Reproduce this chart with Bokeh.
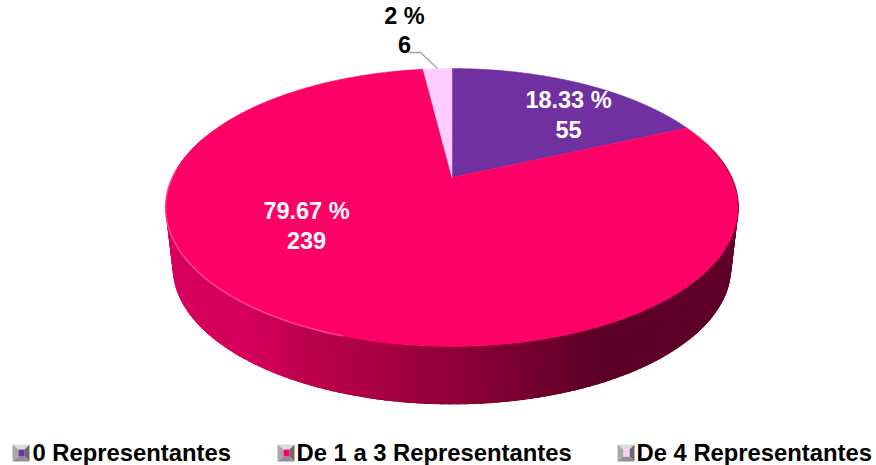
import math
from bokeh.plotting import figure
from bokeh.core.properties import value
from bokeh.embed import file_html
from bokeh.resources import INLINE

# ---- data ----
categories = ["0 Representantes", "De 1 a 3 Representantes", "De 4 Representantes"]
counts = [55, 239, 6]
percents = ["18.33 %", "79.67 %", "2 %"]
colors = ["#7030A0", "#FF0066", "#FFCCFF"]
total = sum(counts)

W, H = 876, 465
p = figure(width=W, height=H, x_range=(0, W), y_range=(H, 0), toolbar_location=None,
           output_backend="svg", min_border=0, outline_line_color=None)
p.axis.visible = False
p.grid.visible = False

# ---- perspective projection of the pie disc ----
CX, R, A, Y0, C = 451.5, 279.7, 0.2158, 177.0, -94.3
def proj(frac):
    th = 2 * math.pi * frac
    u, v = math.sin(th), math.cos(th)
    w = 1 + A * v
    return CX + R * u / w, (Y0 + C * v) / w

def lower(pt):
    return CX + (pt[0] - CX) * 0.975, 267 + (pt[1] - 207) * 0.985

STOPS = [(165, (216, 0, 94)), (250, (212, 0, 90)), (300, (190, 0, 78)), (400, (160, 0, 62)),
         (500, (125, 0, 48)), (590, (92, 0, 38)), (740, (96, 0, 40))]
def side_color(x):
    for (x0, c0), (x1, c1) in zip(STOPS, STOPS[1:]):
        if x <= x1:
            t = max(0, (x - x0) / (x1 - x0))
            return "#%02x%02x%02x" % tuple(round(a + (b - a) * t) for a, b in zip(c0, c1))
    return "#%02x%02x%02x" % STOPS[-1][1]

# side wall, as fine overlapping strips from the top rim to the lower rim
N = 160
xs, ys, cs = [], [], []
for i in range(N):
    f0, f1 = 0.2 + 0.6 * i / N, 0.2 + 0.6 * (i + 2.5) / N
    f1 = min(f1, 0.8)
    a0, a1 = proj(f0), proj(f1)
    b0, b1 = lower(a0), lower(a1)
    xs.append([a0[0], a1[0], b1[0], b0[0]])
    ys.append([a0[1], a1[1], b1[1], b0[1]])
    cs.append(side_color((b0[0] + b1[0]) / 2))
p.patches(xs, ys, fill_color=cs, line_color=None)

# top face
start = 0.0
for cnt, col in zip(counts, colors):
    end = start + cnt / total
    n = max(8, int(cnt * 3))
    pts = [proj(start + (end - start) * k / n) for k in range(n + 1)]
    p.patch([q[0] for q in pts] + [CX], [q[1] for q in pts] + [Y0], fill_color=col, line_color=col, line_width=0.5)
    start = end

# rim light on the near left and rim shadow on the far right
def rim(f0, f1, n=80):
    pts = [proj(f0 + (f1 - f0) * k / n) for k in range(n + 1)]
    return [q[0] for q in pts], [q[1] for q in pts]
rx, ry = rim(0.55, 0.76)
p.line(rx, ry, line_color="#ff5c9c", line_width=1.6, line_alpha=0.7)
rx, ry = rim(0.215, 0.33)
p.line(rx, ry, line_color="#5c0028", line_width=1.2, line_alpha=0.4)

# leader line of the smallest slice
p.line([408, 420, 437], [52, 52, 68], line_color="#a6a6a6", line_width=1.3)

# data labels
FONT = value("Liberation Sans")
def label(x, y, s, color, size="23.5px", align="center"):
    p.text([x], [y], text=[s], text_color=color, text_font=FONT, text_font_size=size,
           text_font_style="bold", text_align=align, text_baseline="alphabetic")
label(568, 99, percents[0], "white")
label(568, 129, str(counts[0]), "white")
label(306, 210, percents[1], "white")
label(306, 240, str(counts[1]), "white")
label(404, 15, percents[2], "black")
label(404, 44, str(counts[2]), "black")

# legend
key_x = [12, 277, 617]
text_x = [32, 296, 636]
key_inner = ["#7030A0", "#FF0066", "#FFCCFF"]
Ky0, Ky1 = 444, 461
for kx, tx, name, col in zip(key_x, text_x, categories, key_inner):
    x0, x1 = kx, kx + 17
    ix0, ix1, iy0, iy1 = x0 + 6, x1 - 5, Ky0 + 5, Ky1 - 5
    p.patch([x0, x1, ix1, ix0], [Ky0, Ky0, iy0, iy0], fill_color="#dcdcdc", line_color=None)
    p.patch([x0, ix0, ix0, x0], [Ky0, iy0, iy1, Ky1], fill_color="#a8a8a8", line_color=None)
    p.patch([x1, ix1, ix1, x1], [Ky0, iy0, iy1, Ky1], fill_color="#6a6a6a", line_color=None)
    p.patch([x0, x1, ix1, ix0], [Ky1, Ky1, iy1, iy1], fill_color="#909090", line_color=None)
    p.quad(left=[ix0], right=[ix1], top=[iy0], bottom=[iy1], fill_color=col, line_color=None)
    label(tx, 452, name, "black", size="23.8px", align="left")

open("out.html", "w").write(file_html(p, INLINE))
